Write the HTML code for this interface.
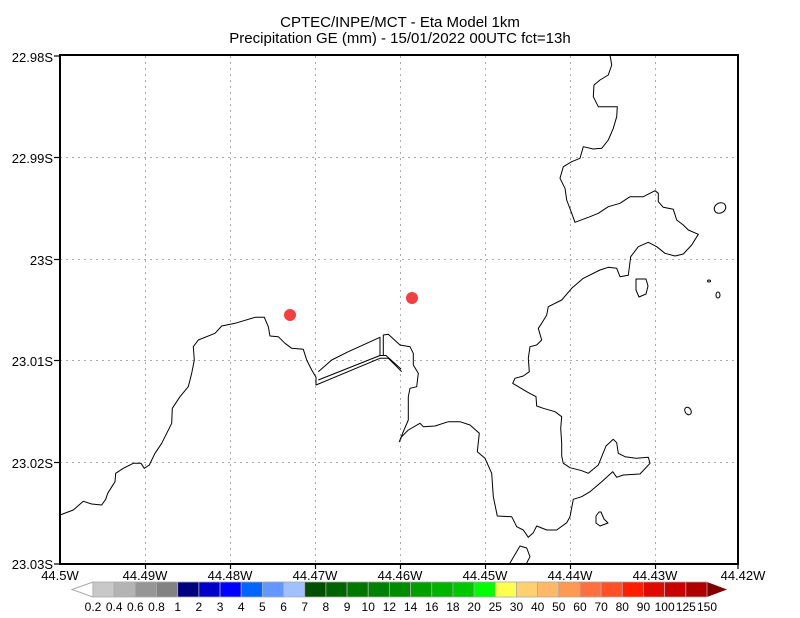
<!DOCTYPE html>
<html><head><meta charset="utf-8"><style>
html,body{margin:0;padding:0;background:#fff;}
svg{display:block;}
text{font-family:"Liberation Sans",sans-serif;fill:#000;}
</style></head><body>
<svg width="800" height="618" viewBox="0 0 800 618" xmlns="http://www.w3.org/2000/svg">
<rect width="800" height="618" fill="#fff"/>
<text x="400" y="27" font-size="15" text-anchor="middle">CPTEC/INPE/MCT -  Eta Model 1km</text>
<text x="400" y="43" font-size="15" text-anchor="middle">Precipitation GE (mm) - 15/01/2022 00UTC fct=13h</text>
<g stroke="#aaa" stroke-width="1" stroke-dasharray="2,4">
<line x1="145.5" y1="56" x2="145.5" y2="563"/><line x1="230.5" y1="56" x2="230.5" y2="563"/><line x1="315.5" y1="56" x2="315.5" y2="563"/><line x1="400.5" y1="56" x2="400.5" y2="563"/><line x1="485.5" y1="56" x2="485.5" y2="563"/><line x1="570.5" y1="56" x2="570.5" y2="563"/><line x1="655.5" y1="56" x2="655.5" y2="563"/>
<line x1="60" y1="157.5" x2="738" y2="157.5"/><line x1="60" y1="259.5" x2="738" y2="259.5"/><line x1="60" y1="360.5" x2="738" y2="360.5"/><line x1="60" y1="462.5" x2="738" y2="462.5"/>
</g>
<g fill="none" stroke="#000" stroke-width="1" stroke-linejoin="round">
<polyline points="60,515 73.3,510 83.3,501.3 91.7,504 101.7,505 105.7,499.3 107.7,493.3 115,481.7 115.7,473.3 123.3,468.3 133.3,463.3 141,463.3 144.3,468.3 149.3,465 155,453.3 161.7,443.3 166.7,433.3 171.7,423.3 172.3,408.3 180,396.7 188.3,386.7 191.7,373.3 194.3,360 193.3,346.7 198.3,340 215,333.3 221.7,326 235,323.3 255,317.3 264.3,317.3 268.3,326.7 270,336 278.3,336.7 285,343.3 291.7,348.3 303.3,349.3 306.7,360 311.7,370 316,377.3 316,385 380,358.3 388.3,358.3 401.7,371.7"/>
<polyline points="318.3,380 380,355.5 386,355.5 401,369"/>
<polyline points="318.3,371.7 331.7,360 348.3,351.7 380,337.3 380,355.5"/>
<polyline points="383.3,355.5 383.3,335 388.3,334.3 400,345 410,346.7 413.3,353.3 413.3,365 418.3,373.3 416.7,386.7 410,388.3 408.3,396.7 408.3,420 403.3,431.7 399.3,441.7 401.7,436.7 408.3,430 420,423.3 423.3,426.7 435,426 448.3,421.7 460,421.7 470,425 479.3,433.3 477.3,451.7 485,458.3 491.7,473.3 493.3,496.7 497.3,516 511.7,516.7 516.7,526.7 523.3,530 528.3,537.3 533.3,532.7 536.7,526 546.7,530 556.7,530 566.7,522.7 570,516.7 573.3,499.3 581.7,496.7 590,491.7 601.7,481.7 612.7,471.7 616.7,477.3 623.3,475 640,474 650,463.3 648.3,457.3 636.7,458.3 625,456.7 618.3,453.3 616.7,442.7 613.3,439.3 606,446 601.7,456.7 598.3,465 588.3,473.3 581.7,470.7 570,467.7 563.3,463.3 561.7,456 561.7,443.3 560.7,428.3 561.7,416.7 555,411.7 543.3,408.3 536.7,406 536,396.7 526.7,391.7 518.3,386.7 512.7,383.3 515,378.3 523.3,376 529.3,371.7 528.3,358.3 530,346.7 536.7,345 541.7,340 538.3,328.3 541.7,323.3 546.7,315 548.3,306.7 561.7,300 571.7,288.3 583.3,278.3 600,270 608.3,267.3 616.7,268.3 620,276.7 628.3,275.3 630.7,256.7 638.3,246.7 648.3,242.3 656.7,246.7 665,253.3 675,256 683.3,254 691.7,245 698.3,234.3 688.3,230 683.3,225 676.7,220 673.3,209.3 663.3,207.3 658.3,201.7 658.3,193.3 655,190.7 643.3,196.7 630,196.7 620,203.3 608.3,206.7 598.3,213.3 590,216.7 575,222.3 571.7,213.3 566.7,200 565,188.3 560,178.3 563.3,166.7 571.7,161.7 580,158.3 583.3,146.7 593.3,149 601.7,148.3 608.3,140 613.3,128.3 616.7,116.7 617.3,106.7 598.3,106.7 593.3,96.7 594,85 600,80 608.3,75 611.7,65 610,55"/>
<ellipse cx="720" cy="208" rx="6" ry="5" transform="rotate(-30 720 208)"/>
<path d="M636,279 L646,279 L648,286 L646,294 L639,297 L636,290 Z"/>
<ellipse cx="709" cy="281" rx="1.5" ry="1"/>
<ellipse cx="718" cy="295" rx="2" ry="3"/>
<ellipse cx="688" cy="411" rx="3" ry="4" transform="rotate(-30 688 411)"/>
<path d="M599,512 L601,512 L604,519 L608,523 L600,526 L596,523 L596,516 Z"/>
<polyline points="510,563 520,546 526.7,548 530,556.7 526.7,563"/>
</g>
<circle cx="290" cy="315" r="6" fill="#f24040"/>
<circle cx="412" cy="298" r="6" fill="#f24040"/>
<rect x="60" y="55" width="678" height="509" fill="none" stroke="#000" stroke-width="2"/>
<g stroke="#000" stroke-width="1.2">
<line x1="54" y1="56" x2="60" y2="56"/><line x1="54" y1="157.5" x2="60" y2="157.5"/><line x1="54" y1="259.5" x2="60" y2="259.5"/><line x1="54" y1="360.5" x2="60" y2="360.5"/><line x1="54" y1="462.5" x2="60" y2="462.5"/><line x1="54" y1="564" x2="60" y2="564"/>
<line x1="145.5" y1="564" x2="145.5" y2="569"/><line x1="230.5" y1="564" x2="230.5" y2="569"/><line x1="315.5" y1="564" x2="315.5" y2="569"/><line x1="400.5" y1="564" x2="400.5" y2="569"/><line x1="485.5" y1="564" x2="485.5" y2="569"/><line x1="570.5" y1="564" x2="570.5" y2="569"/><line x1="655.5" y1="564" x2="655.5" y2="569"/><line x1="738" y1="564" x2="738" y2="569"/>
</g>
<g font-size="13" text-anchor="end">
<text x="53" y="62">22.98S</text><text x="53" y="163">22.99S</text><text x="53" y="265">23S</text><text x="53" y="366">23.01S</text><text x="53" y="468">23.02S</text><text x="53" y="569">23.03S</text>
</g>
<g font-size="13" text-anchor="middle">
<text x="60" y="580">44.5W</text><text x="145" y="580">44.49W</text><text x="230" y="580">44.48W</text><text x="315" y="580">44.47W</text><text x="400" y="580">44.46W</text><text x="485" y="580">44.45W</text><text x="570" y="580">44.44W</text><text x="655" y="580">44.43W</text><text x="743" y="580">44.42W</text>
</g>
<polygon points="72,589.5 93,582 93,597" fill="#fff" stroke="#aaa"/>
<polygon points="707,582 727,589.5 707,597" fill="#800000"/>
<g stroke="#aaa" stroke-width="0.8" id="cb"></g>
<g font-size="12" text-anchor="middle" id="cbl"></g>
<script>
var cols=["#c8c8c8","#b4b4b4","#969696","#828282","#000080","#0000c8","#0000ff","#0064ff","#6496ff","#a0c0ff","#005000","#006400","#007800","#008200","#008c00","#00a000","#00b400","#00c800","#00ff00","#ffff50","#ffd070","#ffb868","#ff9850","#ff7040","#ff5028","#ff1e00","#e00a00","#c80000","#b00000"];
var labs=["0.2","0.4","0.6","0.8","1","2","3","4","5","6","7","8","9","10","12","14","16","18","20","25","30","40","50","60","70","80","90","100","125","150"];
var ns="http://www.w3.org/2000/svg",g=document.getElementById("cb"),gl=document.getElementById("cbl");
var x0=93,w=(707-93)/29;
for(var i=0;i<29;i++){var r=document.createElementNS(ns,"rect");r.setAttribute("x",x0+i*w);r.setAttribute("y",582);r.setAttribute("width",w);r.setAttribute("height",15);r.setAttribute("fill",cols[i]);g.appendChild(r);}
for(var i=0;i<30;i++){var t=document.createElementNS(ns,"text");t.setAttribute("x",x0+i*w);t.setAttribute("y",611);t.textContent=labs[i];gl.appendChild(t);}
</script>
</svg>
</body></html>
